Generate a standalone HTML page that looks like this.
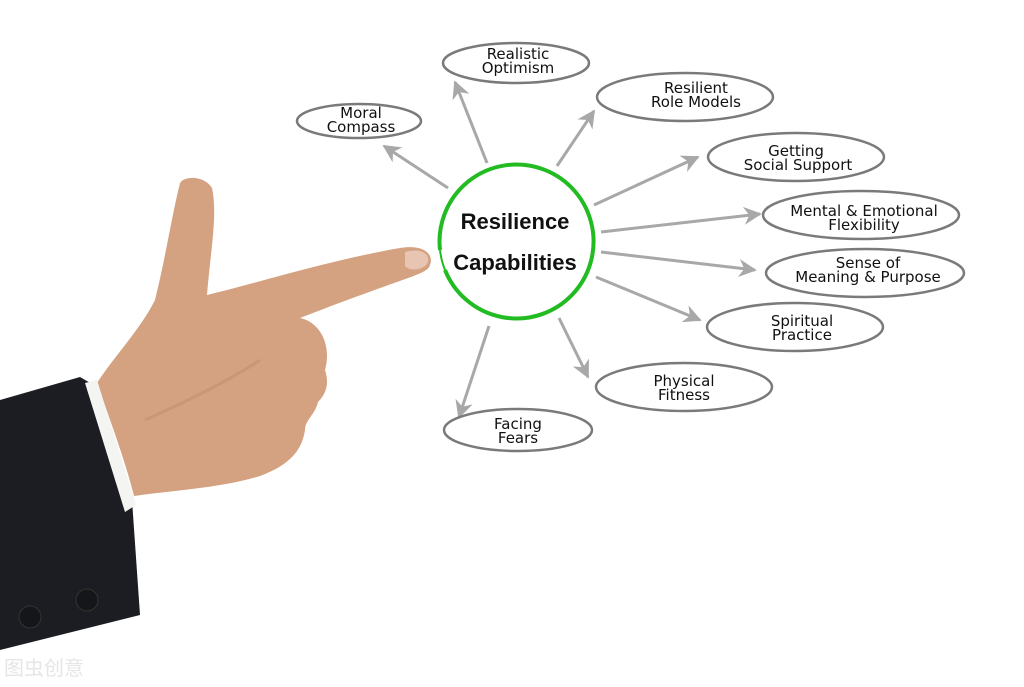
<!DOCTYPE html>
<html><head><meta charset="utf-8"><style>
html,body{margin:0;padding:0;background:#fff;}
svg{display:block}
text{font-family:"DejaVu Sans","Liberation Sans",sans-serif;fill:#111;}
</style></head><body>
<svg width="1024" height="687" viewBox="0 0 1024 687" xmlns="http://www.w3.org/2000/svg">
<defs>
<marker id="ah" viewBox="0 0 10 10" refX="9" refY="5" markerWidth="7" markerHeight="6" orient="auto" markerUnits="strokeWidth">
<path d="M0,0 L10,5 L0,10 L3,5 Z" fill="#a8a8a8"/></marker>
</defs>
<!-- sleeve -->
<polygon points="0,400 80,377 92,384 132,500 140,615 0,650" fill="#1c1d22"/>
<circle cx="30" cy="617" r="11" fill="#15161a" stroke="#333" stroke-width="1"/>
<circle cx="87" cy="600" r="11" fill="#15161a" stroke="#333" stroke-width="1"/>
<!-- hand -->
<path d="M97,383 C115,355 140,330 155,300 C165,260 172,215 180,183 C185,175 205,176 212,188 C218,215 210,255 207,295 C250,285 330,260 400,248 C425,244 434,255 430,265 C427,275 410,275 300,318 C320,322 332,345 325,370 C330,385 325,395 318,402 C315,415 305,420 305,430 C302,450 290,465 260,476 C220,488 175,490 134,496 C125,460 110,420 97,383 Z" fill="#d4a181"/>
<path d="M145,420 C190,400 230,380 260,360" stroke="#c08b6b" stroke-width="3" fill="none" opacity=".5"/>
<path d="M405,252 C418,248 430,252 428,262 C425,270 410,272 405,266 Z" fill="#e8c4b3"/>
<!-- cuff -->
<polygon points="85,383 97,380 136,505 125,512" fill="#f4f4f2"/>
<!-- center circle -->
<path d="M440,250 A77,77 0 1 1 445,270" fill="none" stroke="#22bb22" stroke-width="4"/>
<path d="M440,250 A77,77 0 0 0 445,270" fill="none" stroke="#22bb22" stroke-width="2"/>
<text x="515" y="229" text-anchor="middle" font-size="22" font-weight="bold" style="font-family:'Liberation Sans',sans-serif">Resilience</text>
<text x="515" y="270" text-anchor="middle" font-size="22" font-weight="bold" style="font-family:'Liberation Sans',sans-serif">Capabilities</text>
<!-- arrows -->
<g stroke="#a8a8a8" stroke-width="3" fill="none" marker-end="url(#ah)">
<line x1="448" y1="188" x2="384" y2="146"/>
<line x1="487" y1="163" x2="455" y2="82"/>
<line x1="557" y1="166" x2="594" y2="111"/>
<line x1="594" y1="205" x2="698" y2="157"/>
<line x1="601" y1="232" x2="760" y2="214"/>
<line x1="601" y1="252" x2="755" y2="270"/>
<line x1="596" y1="277" x2="700" y2="320"/>
<line x1="559" y1="318" x2="588" y2="377"/>
<line x1="489" y1="326" x2="459" y2="417"/>
</g>
<!-- ellipses -->
<g fill="#fff" stroke="#7a7a7a" stroke-width="2.5">
<ellipse cx="516" cy="63" rx="73" ry="20"/>
<ellipse cx="359" cy="121" rx="62" ry="17"/>
<ellipse cx="685" cy="97" rx="88" ry="24"/>
<ellipse cx="796" cy="157" rx="88" ry="24"/>
<ellipse cx="861" cy="215" rx="98" ry="24"/>
<ellipse cx="865" cy="273" rx="99" ry="24"/>
<ellipse cx="795" cy="327" rx="88" ry="24"/>
<ellipse cx="684" cy="387" rx="88" ry="24"/>
<ellipse cx="518" cy="430" rx="74" ry="21"/>
</g>
<g font-size="15" text-anchor="middle">
<text x="518" y="59">Realistic</text><text x="518" y="73">Optimism</text>
<text x="361" y="118">Moral</text><text x="361" y="132">Compass</text>
<text x="696" y="93">Resilient</text><text x="696" y="107">Role Models</text>
<text x="796" y="156">Getting</text><text x="798" y="170">Social Support</text>
<text x="864" y="216">Mental &amp; Emotional</text><text x="864" y="230">Flexibility</text>
<text x="868" y="268">Sense of</text><text x="868" y="282">Meaning &amp; Purpose</text>
<text x="802" y="326">Spiritual</text><text x="802" y="340">Practice</text>
<text x="684" y="386">Physical</text><text x="684" y="400">Fitness</text>
<text x="518" y="429">Facing</text><text x="518" y="443">Fears</text>
</g>
<text x="4" y="675" font-size="20" style="font-family:'Noto Sans CJK SC',sans-serif;fill:#e6e6e6">图虫创意</text>
</svg>
</body></html>
